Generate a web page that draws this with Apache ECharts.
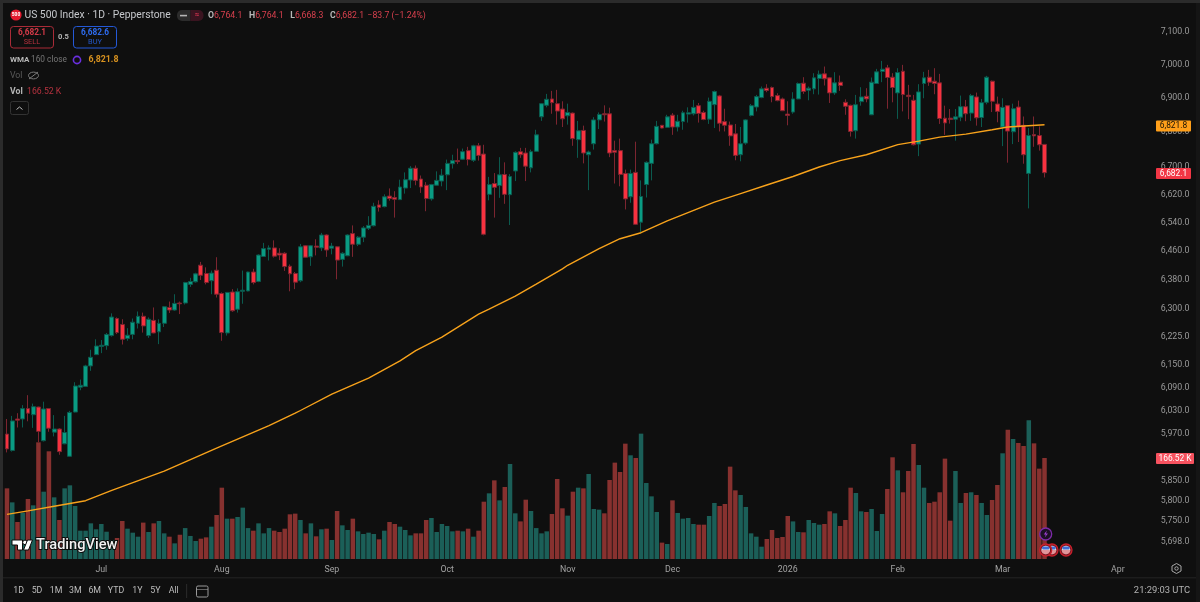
<!DOCTYPE html>
<html>
<head>
<meta charset="utf-8">
<style>html,body{margin:0;padding:0;background:#0f0f0f}#c{width:1200px;height:602px}</style>
<script src="https://cdn.jsdelivr.net/npm/echarts@6/dist/echarts.min.js"></script>
</head>
<body>
<div id="c"></div>
<script>
// Months on the time axis and how many daily bars each has
const monthNames = ['Jun','Jul','Aug','Sep','Oct','Nov','Dec','2026','Feb','Mar','Apr'];
const monthBars  = [18,23,21,22,23,20,22,21,20,22,6];
const hiddenMonth = 'Jun';

// Price-scale tick labels (log scale)
const priceTicks = [7100,7000,6900,6800,6700,6620,6540,6460,6380,6300,6225,6150,6090,6030,5970,5910,5850,5800,5750,5698];

// Daily candles: [open, close, low, high]
const candles = [
[5970,5932,5923,6009],[5928,6004,5925,6017],[6009,6006,5987,6024],[6009,6036,5987,6045],[6036,6024,6003,6071],
[6020,6041,5986,6049],[6040,5977,5949,6041],[5953,6035,5951,6054],[6036,5985,5976,6037],[5975,5983,5964,6019],
[5983,5925,5917,5985],[5945,5974,5944,6017],[5913,6026,5912,6030],[6027,6095,6026,6105],[6092,6097,6084,6112],
[6094,6148,6093,6151],[6148,6171,6135,6191],[6178,6201,6177,6219],[6200,6203,6182,6217],[6202,6232,6191,6236],
[6229,6279,6226,6289],[6275,6237,6233,6278],[6259,6219,6205,6273],[6221,6230,6215,6249],[6232,6265,6219,6275],
[6262,6281,6248,6294],[6281,6255,6237,6291],[6229,6273,6223,6278],[6270,6236,6235,6305],[6239,6262,6206,6273],
[6262,6307,6252,6309],[6305,6298,6290,6321],[6298,6316,6296,6341],[6317,6315,6287,6321],[6317,6373,6313,6375],
[6368,6376,6361,6386],[6375,6397,6373,6400],[6421,6393,6380,6430],[6398,6373,6368,6415],[6378,6399,6341,6406],
[6407,6341,6332,6443],[6343,6237,6215,6346],[6236,6346,6229,6347],[6347,6296,6293,6355],[6300,6348,6291,6357],
[6349,6352,6315,6406],[6350,6402,6349,6403],[6402,6373,6368,6411],[6376,6449,6374,6451],[6445,6467,6444,6483],
[6465,6469,6434,6476],[6469,6446,6442,6490],[6454,6449,6435,6468],[6454,6417,6405,6457],[6418,6397,6349,6423],
[6398,6374,6355,6402],[6378,6472,6374,6480],[6475,6443,6442,6477],[6444,6475,6419,6477],[6474,6471,6448,6493],
[6469,6505,6460,6511],[6505,6463,6444,6507],[6468,6474,6451,6483],[6472,6435,6382,6474],[6437,6454,6417,6457],
[6447,6505,6446,6507],[6509,6479,6444,6532],[6479,6499,6474,6502],[6499,6525,6485,6530],[6524,6532,6519,6558],
[6531,6586,6529,6596],[6590,6583,6571,6603],[6585,6613,6583,6620],[6615,6608,6602,6637],[6611,6606,6554,6629],
[6605,6641,6605,6662],[6638,6662,6622,6683],[6661,6695,6638,6701],[6695,6660,6646,6703],[6664,6641,6624,6674],
[6646,6608,6572,6655],[6607,6648,6602,6650],[6646,6660,6646,6686],[6658,6675,6643,6693],[6676,6709,6632,6720],
[6708,6717,6694,6734],[6717,6714,6707,6752],[6721,6743,6719,6752],[6746,6720,6703,6757],[6718,6760,6713,6763],
[6760,6732,6717,6768],[6736,6507,6504,6763],[6620,6648,6603,6670],[6651,6640,6554,6681],[6645,6676,6610,6727],
[6677,6620,6593,6712],[6619,6671,6533,6678],[6687,6741,6658,6744],[6743,6734,6725,6754],[6739,6701,6658,6754],
[6696,6743,6683,6749],[6744,6792,6743,6807],[6845,6884,6833,6886],[6879,6897,6873,6913],[6898,6887,6854,6922],
[6884,6862,6822,6925],[6868,6839,6815,6891],[6848,6858,6822,6884],[6856,6781,6760,6858],[6778,6804,6725,6833],
[6805,6739,6709,6819],[6734,6742,6632,6746],[6766,6836,6749,6844],[6836,6852,6809,6858],[6854,6851,6831,6879],
[6854,6739,6727,6872],[6746,6741,6651,6775],[6746,6677,6643,6781],[6680,6607,6577,6691],[6613,6680,6596,6691],
[6683,6535,6533,6772],[6541,6614,6511,6660],[6648,6712,6611,6715],[6709,6766,6660,6778],[6766,6817,6764,6833],
[6820,6812,6811,6820],[6814,6845,6812,6851],[6850,6815,6792,6856],[6815,6832,6802,6851],[6831,6857,6807,6863],
[6853,6857,6828,6873],[6854,6873,6849,6895],[6878,6855,6828,6886],[6858,6837,6835,6863],[6838,6891,6824,6902],
[6881,6920,6812,6923],[6907,6826,6802,6910],[6831,6820,6802,6869],[6821,6789,6760,6831],[6795,6732,6718,6824],
[6734,6766,6715,6815],[6768,6836,6763,6838],[6849,6878,6846,6883],[6874,6905,6861,6910],[6902,6928,6900,6935],
[6930,6923,6918,6942],[6932,6905,6888,6935],[6908,6893,6891,6915],[6898,6863,6862,6902],[6853,6849,6820,6891],
[6859,6898,6854,6918],[6898,6944,6897,6947],[6945,6920,6913,6963],[6924,6930,6894,6935],[6928,6961,6912,6975],
[6959,6972,6911,6983],[6973,6958,6938,6995],[6961,6916,6886,6963],[6916,6946,6910,6978],[6948,6938,6922,6968],
[6888,6876,6851,6897],[6879,6802,6787,6881],[6804,6881,6781,6910],[6890,6904,6878,6933],[6906,6898,6888,6930],
[6851,6948,6850,6962],[6944,6979,6943,6988],[6980,6987,6948,7012],[6991,6962,6869,7000],[6963,6932,6888,6975],
[6916,6977,6839,6990],[6981,6911,6861,7000],[6909,6905,6838,6940],[6894,6763,6761,6910],[6765,6919,6730,6942],
[6944,6961,6900,6979],[6963,6948,6937,6985],[6951,6944,6912,6990],[6946,6840,6824,6973],[6841,6827,6792,6878],
[6841,6837,6825,6868],[6838,6845,6775,6868],[6844,6875,6832,6908],[6875,6854,6832,6895],[6856,6908,6833,6913],
[6904,6842,6819,6917],[6843,6887,6815,6898],[6888,6963,6882,6967],[6951,6891,6859,6953],[6883,6861,6829,6905],
[6815,6873,6759,6900],[6878,6803,6711,6878],[6801,6869,6765,6884],[6874,6815,6771,6893],[6820,6734,6708,6846],
[6680,6790,6580,6812],[6793,6789,6757,6846],[6790,6763,6746,6817],[6764.1,6682.1,6668.3,6764.1]
];

// Daily volume, thousands
const volumes = [
116.5,93.4,61,76.4,99,88.5,192.4,111,177.6,101.7,64.3,116.5,121.5,87.4,46.7,46.7,58.8,49,57.7,45,
31.3,34.6,62.7,50,43.4,36.8,60,44.5,58.8,62.7,42.3,36.8,25.8,40,51,38,29.7,33.5,35.7,53.3,
72.6,117.6,66.5,66.5,69.3,84.7,51,46.7,58.8,42.3,51,46.7,44.5,50,73.7,74.8,64.3,42.3,58.8,37.4,
49,50,31.3,79.2,55.5,47.8,66.5,45.6,41.2,43.4,41.2,32.4,46.7,61,57.7,53.3,47.8,39,42.3,42.3,
64.3,67.6,44.5,57.7,54.4,45.6,46.7,45.6,50,36.8,46.7,94.5,108.3,129.7,96.7,118.7,156.7,75.3,62,97.8,
79.2,51,42.3,45.6,74.2,131.9,83.6,71.5,111,117.6,116.5,140.2,82.5,81.4,75.3,130.3,158.9,143.5,190.2,171,
166.6,206.7,125.3,103.3,77.5,27,24.7,96.7,75.9,66.5,67.6,57.7,56.6,56.6,70.9,92.4,87.4,90.7,152.3,113.2,
105.5,85.8,42.3,36.8,20.3,33,47.8,34.6,36.3,70.9,62,44.5,44,64.3,59.4,56.6,57.7,78.6,75.3,54.4,
64.3,117.6,108.8,78.6,77.5,82.5,46.2,74.2,115.4,167.7,146.2,110,145.1,189.6,155,117.6,92.4,94.5,110,165.5,
63.2,145.1,92.4,108.8,110,105.5,92.4,72.6,97.3,122,174.3,213.3,197.9,191.3,186.3,228.7,190.7,149,166.52
];

// WMA 160 read at the bars where the line could be measured: bar number, value
const wmaBars   = [0,4,9,15,20,30,40,50,55,56,62,69,75,78,83,90,92,97,101,106,107,113,117,121,126,135,140,145,150,155,159,164,170,174,178,183,188,191,198];
const wmaValues = [5767,5775.5,5787,5801,5827,5875.5,5934,5992,6024,6031,6074,6116,6161.5,6188.6,6224.8,6286.8,6300.3,6335.6,6368.5,6410.6,6420.6,6466.6,6494.6,6511.4,6544.6,6597.8,6622.3,6646.7,6671.2,6698.6,6716.9,6734,6763.3,6773.6,6785.4,6794.2,6807,6815,6821.8];

// Bottom toolbar
const rangeButtons = ['1D','5D','1M','3M','6M','YTD','1Y','5Y','All'];
const rangeX = [18.7,37,56,75.3,94.7,116,137.3,155.3,173.7];

const UP='#0a9c83', DOWN='#f7323f', UPW='#0b5a4e', DOWNW='#7c2530', VUP='#1b5f58', VDOWN='#87312f';
const F='Roboto, Arial, sans-serif';

const categories = [];
monthNames.forEach((m,i)=>{ for(let k=1;k<=monthBars[i];k++) categories.push(m+'-'+k); });

function T(text,x,y,fill,size,opt){
  opt=opt||{};
  return {type:'text',silent:true,z:opt.z||50,x:x,y:y,style:{text:text,fill:fill,fontFamily:F,fontSize:size,fontWeight:opt.w||'normal',
    align:opt.a||'left',verticalAlign:'middle',stroke:opt.s,lineWidth:opt.lw||0}};
}
function R(x,y,w,h,fill,stroke,r,z){
  return {type:'rect',silent:true,z:z||49,shape:{x:x,y:y,width:w,height:h,r:r||0},style:{fill:fill||'none',stroke:stroke||'none',lineWidth:1}};
}
function C(cx,cy,r,fill,stroke,z,lw){
  return {type:'circle',silent:true,z:z||49,shape:{cx:cx,cy:cy,r:r},style:{fill:fill||'none',stroke:stroke||'none',lineWidth:lw||1}};
}
function P(points,fill,stroke,z,closed){
  return {type:closed===false?'polyline':'polygon',silent:true,z:z||50,shape:{points:points},style:{fill:fill||'none',stroke:stroke||'none',lineWidth:1}};
}
function flag(cx,cy,z){
  return [
    C(cx,cy,6,'#7a1620','#c8202c',z,1.3),
    C(cx,cy,4.3,'#e9e9e9',null,z+1),
    R(cx-4,cy+0.5,8,1,'#d8404a',null,0,z+2),
    R(cx-3.4,cy+2.5,6.8,1,'#d8404a',null,0,z+2),
    R(cx-3.6,cy-3.6,7.2,3.2,'#3f6fd8',null,1,z+2)
  ];
}

const gfx = [
  // window frame
  R(0,0,1200,3,'#2b2b2b',null,0,40),
  R(0,0,3,602,'#2b2b2b',null,0,40),
  R(3,577,1197,1.5,'#1d1d1d',null,0,40),
  R(1196,3,4,599,'#151515',null,0,40),
  // header
  C(16,15,5.6,'#e2182d'),
  T('500',16,15.3,'#ffffff',4.8,{a:'center',w:'bold'}),
  T('US 500 Index · 1D · Pepperstone',24.5,15.5,'#c6c8cc',10.3),
  R(177,10,13.5,11,'#2c2c2c',null,[5,0,0,5]),
  R(190.5,10,13,11,'#3a1420',null,[0,5,5,0]),
  R(180,14.8,7,1.6,'#b5b5b5'),
  T('≈',197,15,'#c2304a',8,{a:'center',w:'bold'}),
  {type:'text',silent:true,z:50,x:208,y:15.5,style:{
    text:'{k|O}{v|6,764.1}  {k|H}{v|6,764.1}  {k|L}{v|6,668.3}  {k|C}{v|6,682.1} {v|−83.7 (−1.24%)}',
    verticalAlign:'middle',rich:{k:{fill:'#b8b8b8',fontSize:8.7,fontWeight:'bold',fontFamily:F},v:{fill:'#d8404e',fontSize:8.7,fontFamily:F}}}},
  // sell / buy
  R(10.5,26.5,43,21.5,'#0f0f0f','#a92b37',3),
  T('6,682.1',32,33,'#d43a48',8.3,{a:'center',w:'bold'}),
  T('SELL',32,42.3,'#b5303d',7.4,{a:'center'}),
  T('0.5',63.5,37.3,'#b5b5b5',7.6,{a:'center',w:'bold'}),
  R(73.5,26.5,43,21.5,'#0f0f0f','#2459d8',3),
  T('6,682.6',95,33,'#2e6cf0',8.3,{a:'center',w:'bold'}),
  T('BUY',95,42.3,'#2457c9',7.4,{a:'center'}),
  // indicators
  T('WMA',10,60,'#b5b5b5',8,{w:'bold'}),
  T('160 close',31,60,'#767676',8.3),
  C(77,60,3.6,null,'#6a2fe0',50,1.6),
  T('6,821.8',88.5,60,'#d8921f',8.8,{w:'bold'}),
  T('Vol',10,75.5,'#5a5a5a',8.7),
  {type:'ellipse',silent:true,z:50,shape:{cx:33.5,cy:75.5,rx:5,ry:3.4},style:{fill:'none',stroke:'#7a7a7a',lineWidth:1}},
  P([[29,79],[38,72]],null,'#7a7a7a',50,false),
  T('Vol',10,91.5,'#b5b5b5',8.7,{w:'bold'}),
  T('166.52 K',27,91.5,'#b5323f',8.7),
  R(10.5,101.5,18,13,'none','#333333',2),
  P([[16.5,109.5],[19.5,107],[22.5,109.5]],null,'#bdbdbd',50,false),
  // watermark
  P([[12,540],[22.5,540],[22.5,550],[17.5,550],[17.5,545],[12,545]],'#ffffff','#0c0c0c',60),
  C(25,542.4,2.3,'#ffffff','#0c0c0c',60),
  P([[27.5,540],[32.5,540],[28.5,550],[23.5,550]],'#ffffff','#0c0c0c',60),
  T('TradingView',36,545.5,'#f2f2f2',14.6,{w:'500',s:'#0c0c0c',lw:2,z:60}),
  // price tags
  R(1156,120.5,35,11,'#ff9f1a',null,1),
  T('6,821.8',1173.5,126.3,'#1a1204',8.4,{a:'center'}),
  R(1156,168,35,11,'#f23645',null,1),
  T('6,682.1',1173.5,173.8,'#ffffff',8.4,{a:'center'}),
  R(1156,453,38,11,'#f7525f',null,1),
  T('166.52 K',1175,458.8,'#ffffff',8.4,{a:'center'}),
  // gear
  {type:'polygon',silent:true,z:50,shape:{points:[[1176.5,563.5],[1181,566],[1181,571],[1176.5,573.5],[1172,571],[1172,566]]},style:{fill:'none',stroke:'#a8a8a8',lineWidth:1}},
  C(1176.5,568.5,1.7,null,'#a8a8a8'),
  // bottom bar
  R(186.3,584,0.8,14,'#333333'),
  R(196.5,586,11.5,11,'none','#9a9a9a',1.5),
  R(196.5,589,11.5,0.6,'#9a9a9a'),
  T('21:29:03 UTC',1190,591,'#b3b3b3',9.4,{a:'right'}),
  // event markers
  C(1045.7,534,6,'#1b1024','#7d2aa8',70,1.3),
  P([[1046.8,530.5],[1043.8,534.6],[1045.8,534.6],[1044.8,537.6],[1048,533.4],[1046,533.4]],'#9b3fd0',null,71)
].concat(flag(1052,550,72),flag(1045.7,550,75),flag(1066,550,72));
rangeButtons.forEach((b,i)=>gfx.push(T(b,rangeX[i],590.8,'#bdbdbd',8.8,{a:'center'})));

const chart = echarts.init(document.getElementById('c'),null,{renderer:'canvas'});
chart.setOption({
  backgroundColor:'#0f0f0f',
  animation:false,
  textStyle:{fontFamily:F},
  grid:{left:4.38,top:10,width:1142.32,height:549,containLabel:false},
  xAxis:{type:'category',data:categories,boundaryGap:true,
    axisLine:{show:false},axisTick:{show:false},splitLine:{show:false},
    axisLabel:{color:'#a3a3a3',fontSize:8.8,fontFamily:F,margin:6,hideOverlap:false,
      interval:(i,v)=>/-1$/.test(v)&&v.indexOf(hiddenMonth)!==0,
      formatter:v=>v.split('-')[0]}},
  yAxis:[
    {type:'log',logBase:10,min:5657,max:7167.6,position:'right',
      axisLine:{show:false},axisTick:{show:false},splitLine:{show:false},minorTick:{show:false},minorSplitLine:{show:false},
      axisLabel:{color:'#999999',fontSize:8.8,fontFamily:F,margin:14,customValues:priceTicks,
        formatter:v=>Number(v).toLocaleString('en-US',{minimumFractionDigits:1,maximumFractionDigits:1})}},
    {type:'value',min:0,max:905.3,show:false,splitLine:{show:false}}
  ],
  series:[
    {name:'Vol',type:'bar',yAxisIndex:1,barWidth:4.5,z:1,silent:true,
      data:volumes.map((v,i)=>({value:v,itemStyle:{color:candles[i][1]>=candles[i][0]?VUP:VDOWN}}))},
    {name:'US 500 Index',type:'candlestick',yAxisIndex:0,barWidth:4.4,z:3,silent:true,data:candles,
      itemStyle:{color:UP,color0:DOWN,borderColor:UPW,borderColor0:DOWNW,borderWidth:1}},
    {name:'WMA 160',type:'line',yAxisIndex:0,z:4,silent:true,showSymbol:false,symbol:'none',
      lineStyle:{color:'#f7a21b',width:1.4},data:wmaBars.map((b,i)=>[b,wmaValues[i]])}
  ],
  graphic:{elements:gfx}
});
</script>
</body>
</html>
